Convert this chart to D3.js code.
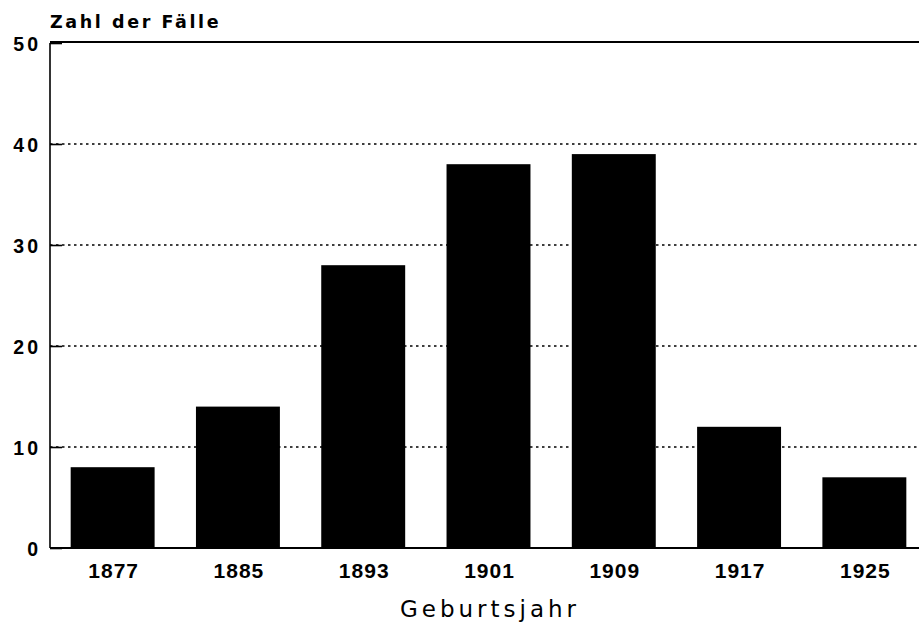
<!DOCTYPE html>
<html lang="de">
<head>
<meta charset="UTF-8">
<script src="https://cdnjs.cloudflare.com/ajax/libs/d3/7.8.5/d3.min.js"></script>
<style>
    body { margin: 0; background: #fff; }
    svg text { fill: #000; }
</style>
</head>
<body>
<svg id="chart" width="919" height="626"></svg>
<script>
    // values
    var years = ["1877", "1885", "1893", "1901", "1909", "1917", "1925"];
    var cases = [8, 14, 28, 38, 39, 12, 7];
    var yTicks = [0, 10, 20, 30, 40, 50];

    var svg = d3.select("#chart");
    var plotLeft = 50, plotTop = 43, plotBottom = 548, plotRight = 919;
    var helv = "'Liberation Sans', Arial, sans-serif";
    var wide = "'DejaVu Sans', sans-serif";

    var x = d3.scaleBand()
        .domain(years)
        .range([plotLeft, 927])
        .paddingInner(0.33)
        .paddingOuter(0.165);

    var y = d3.scaleLinear()
        .domain([0, 50])
        .range([plotBottom, plotTop]);

    // dotted grid lines
    svg.append("g").selectAll("line")
        .data(yTicks.filter(function (d) { return d > 0 && d < 50; }))
        .join("line")
        .attr("x1", plotLeft).attr("x2", plotRight)
        .attr("y1", function (d) { return y(d); })
        .attr("y2", function (d) { return y(d); })
        .attr("stroke", "#000")
        .attr("stroke-width", 1.6)
        .attr("stroke-dasharray", "2.5,3.5");

    // bars
    svg.append("g").selectAll("rect")
        .data(years)
        .join("rect")
        .attr("x", function (d) { return x(d); })
        .attr("width", x.bandwidth())
        .attr("y", function (d, i) { return y(cases[i]); })
        .attr("height", function (d, i) { return plotBottom - y(cases[i]); })
        .attr("fill", "#000");

    // y axis with short inner ticks
    var yAxis = d3.axisRight(y).tickValues(yTicks).tickSize(12).tickFormat("");
    var gy = svg.append("g").attr("transform", "translate(" + plotLeft + ",0)").call(yAxis);
    gy.select(".domain").remove();
    gy.selectAll(".tick line").attr("stroke", "#000").attr("stroke-width", 1.6);

    svg.append("line")
        .attr("x1", plotLeft).attr("x2", plotLeft).attr("y1", y(50)).attr("y2", plotBottom)
        .attr("stroke", "#000").attr("stroke-width", 1.6);
    svg.append("line")
        .attr("x1", plotLeft).attr("x2", plotRight).attr("y1", y(50) - 1).attr("y2", y(50) - 1)
        .attr("stroke", "#000").attr("stroke-width", 2.2);
    svg.append("line")
        .attr("x1", plotLeft).attr("x2", plotRight).attr("y1", plotBottom).attr("y2", plotBottom)
        .attr("stroke", "#000").attr("stroke-width", 1.8);

    // y tick labels
    svg.append("g").selectAll("text")
        .data(yTicks)
        .join("text")
        .attr("x", 41)
        .attr("y", function (d) { return y(d) + 8; })
        .attr("text-anchor", "end")
        .style("font-family", helv)
        .style("font-size", "19.5px")
        .style("font-weight", "bold")
        .style("letter-spacing", "3px")
        .text(function (d) { return d; });

    // x tick labels
    svg.append("g").selectAll("text")
        .data(years)
        .join("text")
        .attr("x", function (d) { return x(d) + x.bandwidth() / 2 + 1; })
        .attr("y", 578)
        .attr("text-anchor", "middle")
        .style("font-family", helv)
        .style("font-size", "21px")
        .style("font-weight", "bold")
        .style("letter-spacing", "1px")
        .text(function (d) { return d; });

    svg.append("text")
        .attr("x", 50).attr("y", 28)
        .style("font-family", wide)
        .style("font-size", "17.5px")
        .style("font-weight", "bold")
        .style("letter-spacing", "2.6px")
        .text("Zahl der Fälle");

    svg.append("text")
        .attr("x", 490).attr("y", 617)
        .attr("text-anchor", "middle")
        .style("font-family", wide)
        .style("font-size", "23px")
        .style("letter-spacing", "4px")
        .text("Geburtsjahr");
</script>
</body>
</html>
